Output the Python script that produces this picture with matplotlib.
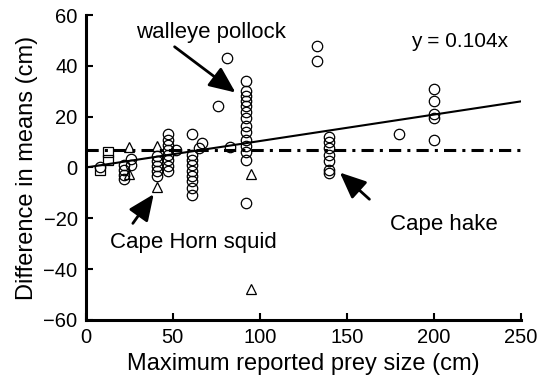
import matplotlib
matplotlib.use("Agg")
import matplotlib.pyplot as plt
import numpy as np

plt.rcParams['font.family'] = ['Liberation Sans', 'DejaVu Sans']

# open circles (prey size, difference in means)
circle_x = [8,
            22, 22, 22, 22, 26, 26,
            41, 41, 41, 41, 41,
            47, 47, 47, 47, 47, 47, 47, 47, 52,
            61, 61, 61, 61, 61, 61, 61, 61, 61, 65, 67,
            76, 81, 83,
            92, 92, 92, 92, 92, 92, 92, 92, 92, 92, 92, 92, 92, 92,
            133, 133,
            140, 140, 140, 140, 140, 140, 140,
            180,
            200, 200, 200, 200, 200]
circle_y = [0,
            1, -1, -3, -4.5, 3.5, 1,
            4.5, 2.5, 0.5, -1.5, -3.5,
            13, 11, 9, 7, 5, 3, 0.5, -1.5, 7,
            13, 5, 3, 1, -1.5, -3.5, -5.5, -8, -11, 7.5, 9.5,
            24, 43, 8,
            34, 30, 28, 26, 24, 22, 19.5, 16.5, 14, 11, 8.5, 6, 3, -14,
            48, 42,
            12, 10, 7.5, 5, 2.5, -1, -2,
            13,
            31, 26, 21, 19.5, 11]

tri_x = [25, 25, 41, 41, 95, 95]
tri_y = [8, -2.5, 8.5, -7.5, -2.5, -48]

sq_x = [8, 13, 13]
sq_y = [-1, 3, 6]

slope = 0.104
mean_level = 7

fig = plt.figure(figsize=(5.47, 3.85), dpi=100)
ax = fig.add_axes([0.157, 0.169, 0.795, 0.792])

xs = np.array([0, 250])
ax.plot(xs, slope * xs, color='k', lw=1.5, zorder=2)
ax.plot(xs, [mean_level, mean_level], color='k', lw=2.2,
        dashes=(4, 2, 1, 2), zorder=2)

mk = dict(linestyle='none', markerfacecolor='none', markeredgecolor='k',
          markeredgewidth=0.9, markersize=7.5, zorder=3)
ax.plot(circle_x, circle_y, marker='o', **mk)
ax.plot(tri_x, tri_y, marker='^', **mk)
ax.plot(sq_x, sq_y, marker='s', **mk)

arrow = dict(arrowstyle='-|>,head_length=0.8,head_width=0.35', lw=2,
             color='k', mutation_scale=20, shrinkA=0, shrinkB=0)
ax.text(72, 53, 'walleye pollock', ha='center', va='center', fontsize=16)
ax.annotate('', xy=(86, 29.5), xytext=(51, 47.5), arrowprops=arrow)
ax.text(62, -29.5, 'Cape Horn squid', ha='center', va='center', fontsize=16)
ax.annotate('', xy=(39, -10.5), xytext=(27, -22), arrowprops=arrow)
ax.text(206, -22.5, 'Cape hake', ha='center', va='center', fontsize=16)
ax.annotate('', xy=(146, -2), xytext=(163, -12.5), arrowprops=arrow)
ax.text(215, 49.5, 'y = 0.104x', ha='center', va='center', fontsize=15)

ax.set_xlim(0, 250)
ax.set_ylim(-60, 60)
ax.set_xticks(np.arange(0, 251, 50))
ax.set_yticks(np.arange(-60, 61, 20))
ax.tick_params(direction='in', length=5, width=1.5, labelsize=14.5, pad=6)
for s in ['top', 'right']:
    ax.spines[s].set_visible(False)
for s in ['left', 'bottom']:
    ax.spines[s].set_linewidth(2.2)
ax.set_xlabel('Maximum reported prey size (cm)', fontsize=17, labelpad=4)
ax.set_ylabel('Difference in means (cm)', fontsize=17, labelpad=4)

fig.savefig('out.png', dpi=100)
